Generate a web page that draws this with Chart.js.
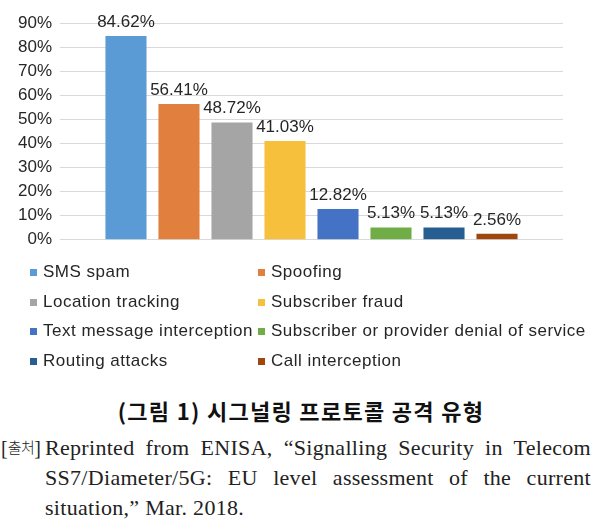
<!DOCTYPE html>
<html>
<head>
<meta charset="utf-8">
<script src="https://cdn.jsdelivr.net/npm/chart.js@4/dist/chart.umd.min.js"></script>
<style>
  html, body { margin: 0; padding: 0; background: #fff; }
  body { width: 602px; height: 530px; position: relative; overflow: hidden; font-family: "Liberation Sans", Arial, sans-serif; }
  #chartWrap { position: absolute; left: 0; top: 0; width: 602px; height: 258px; }
  #legend { position: absolute; left: 0; top: 257px; width: 602px; }
  .li { position: absolute; height: 30px; line-height: 30px; font-size: 17px; color: #262626; white-space: nowrap; letter-spacing: 0.5px; }
  .li span.box { position: absolute; left: 0; top: 12px; width: 7px; height: 7px; }
  .li span.txt { position: absolute; left: 13px; top: 0; }
  #title { position: absolute; left: 0; width: 602px; top: 395px; text-align: center; font-family: "Noto Sans CJK KR", sans-serif; font-weight: bold; font-size: 22px; line-height: 30px; color: #111; letter-spacing: 1.3px; }
  #src { position: absolute; left: 0; top: 433px; width: 602px; font-family: "Liberation Serif", "Times New Roman", serif; font-size: 22px; color: #222; }
  #src .tag { position: absolute; left: 1px; top: 0; line-height: 30px; white-space: nowrap; font-size: 20px; }
  #src .tag .h { font-family: "Noto Sans CJK KR", serif; font-size: 15px; font-weight: 300; letter-spacing: -0.5px; position: relative; top: -2px; }
  #src .ln { position: absolute; left: 45px; width: 546px; line-height: 30px; white-space: nowrap; letter-spacing: 0.3px; }
  #src .j { text-align: justify; text-align-last: justify; white-space: normal; }
</style>
</head>
<body>
<div id="chartWrap"><canvas id="c" width="602" height="258"></canvas></div>
<div id="legend"></div>
<div id="title">(그림 1) 시그널링 프로토콜 공격 유형</div>
<div id="src">
  <span class="tag">[<span class="h">출처</span>]</span>
  <div class="ln j" style="top:0px">Reprinted from ENISA, “Signalling Security in Telecom</div>
  <div class="ln j" style="top:30px">SS7/Diameter/5G: EU level assessment of the current</div>
  <div class="ln" style="top:60px">situation,” Mar. 2018.</div>
</div>
<script>
const categories = ["Attack type"];
const seriesNames = [
  "SMS spam", "Spoofing", "Location tracking", "Subscriber fraud",
  "Text message interception", "Subscriber or provider denial of service",
  "Routing attacks", "Call interception"
];
const seriesValues = [84.62, 56.41, 48.72, 41.03, 12.82, 5.13, 5.13, 2.56];
const seriesColors = ["#5B9BD5", "#E07F3E", "#A5A5A5", "#F6BF3C", "#4472C4", "#70AD47", "#275E91", "#9E480E"];
const yTicks = [0, 10, 20, 30, 40, 50, 60, 70, 80, 90];

const datasets = seriesNames.map((name, i) => ({
  label: name,
  data: [seriesValues[i]],
  backgroundColor: seriesColors[i],
  borderWidth: 0,
  categoryPercentage: 0.843,
  barPercentage: 0.775
}));

const valueLabels = {
  id: "valueLabels",
  afterDatasetsDraw(chart) {
    const ctx = chart.ctx;
    ctx.save();
    ctx.font = "17px 'Liberation Sans', Arial, sans-serif";
    ctx.fillStyle = "#262626";
    ctx.textAlign = "center";
    ctx.textBaseline = "alphabetic";
    chart.data.datasets.forEach((ds, i) => {
      const meta = chart.getDatasetMeta(i);
      meta.data.forEach((bar, j) => {
        ctx.fillText(ds.data[j].toFixed(2) + "%", bar.x, bar.y - 9);
      });
    });
    ctx.restore();
  }
};

const chart = new Chart(document.getElementById("c"), {
  type: "bar",
  data: { labels: categories, datasets },
  options: {
    responsive: false,
    animation: false,
    layout: { padding: { top: 23, bottom: 13, left: 0, right: 39 } },
    plugins: { legend: { display: false }, tooltip: { enabled: false } },
    scales: {
      x: { display: false },
      y: {
        min: 0, max: 90,
        afterFit(scale) { scale.width = 60; },
        afterBuildTicks(scale) { scale.ticks = yTicks.map(v => ({ value: v })); },
        border: { display: false },
        grid: { color: "#d9d9d9", lineWidth: 1, drawTicks: false },
        ticks: {
          padding: 8,
          color: "#262626",
          font: { family: "'Liberation Sans', Arial, sans-serif", size: 17 },
          callback: v => v + "%"
        }
      }
    }
  },
  plugins: [valueLabels]
});

// HTML legend built from chart datasets
const legend = document.getElementById("legend");
const rowTops = [0, 30, 59, 89];
chart.data.datasets.forEach((ds, i) => {
  const row = Math.floor(i / 2), col = i % 2;
  const d = document.createElement("div");
  d.className = "li";
  d.style.left = (col === 0 ? 30 : 258) + "px";
  d.style.top = rowTops[row] + "px";
  const b = document.createElement("span");
  b.className = "box";
  b.style.background = ds.backgroundColor;
  const t = document.createElement("span");
  t.className = "txt";
  t.textContent = ds.label;
  d.appendChild(b); d.appendChild(t);
  legend.appendChild(d);
});
</script>
</body>
</html>
